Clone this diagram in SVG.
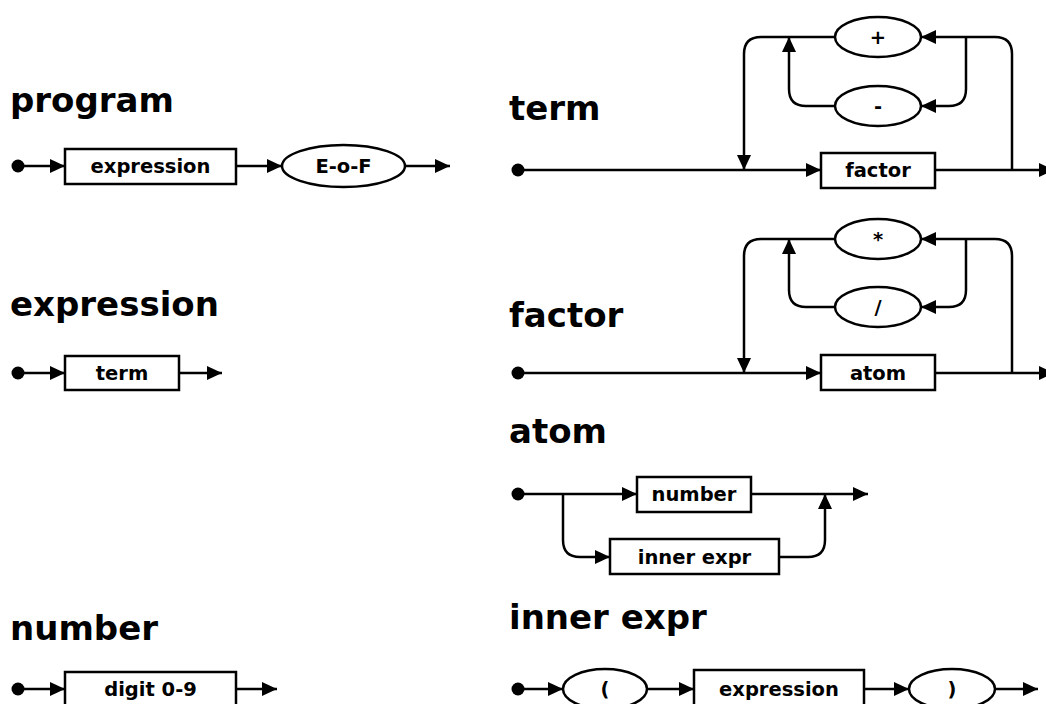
<svg xmlns="http://www.w3.org/2000/svg" width="1046" height="704" viewBox="0 0 1046 704">
<style>
.title{font-family:"DejaVu Sans",sans-serif;font-weight:bold;font-size:34px;fill:#000}
.lbl{font-family:"DejaVu Sans",sans-serif;font-weight:bold;font-size:19.5px;fill:#000;text-anchor:middle}
.shape{fill:#fff;stroke:#000;stroke-width:2.5}
.ln{fill:none;stroke:#000;stroke-width:2.5;marker-end:url(#arr)}
.dot{fill:#000}
</style>
<defs>
<marker id="arr" markerUnits="userSpaceOnUse" markerWidth="15" markerHeight="14" refX="15" refY="7" orient="auto"><path d="M0,0 L15,7 L0,14 z" fill="#000"/></marker>
</defs>
<rect width="1046" height="704" fill="#fff"/>
<g id="titles">
<text class="title" x="10" y="112">program</text>
<text class="title" x="10" y="316">expression</text>
<text class="title" x="10" y="640">number</text>
<text class="title" x="509" y="120">term</text>
<text class="title" x="509" y="327">factor</text>
<text class="title" x="509" y="443">atom</text>
<text class="title" x="509" y="629">inner expr</text>
</g>
<g id="connectors">
<path class="ln" d="M18,166 H65"/>
<path class="ln" d="M236,166 H282"/>
<path class="ln" d="M405,166 H450"/>
<path class="ln" d="M18,373 H65"/>
<path class="ln" d="M179,373 H222"/>
<path class="ln" d="M18,689 H65"/>
<path class="ln" d="M236,689 H277"/>
<path class="ln" d="M518,170 H821"/>
<path class="ln" d="M935,170 H1054"/>
<path class="ln" d="M1012,170 V54 Q1012,37 995,37 H921"/>
<path class="ln" d="M966,37 V89 Q966,106 949,106 H921"/>
<path class="ln" d="M835,37 H761 Q744,37 744,54 V170"/>
<path class="ln" d="M835,106 H806 Q789,106 789,89 V37"/>
<path class="ln" d="M518,373 H821"/>
<path class="ln" d="M935,373 H1054"/>
<path class="ln" d="M1012,373 V256 Q1012,239 995,239 H921"/>
<path class="ln" d="M966,239 V290 Q966,307 949,307 H921"/>
<path class="ln" d="M835,239 H761 Q744,239 744,256 V373"/>
<path class="ln" d="M835,307 H806 Q789,307 789,290 V239"/>
<path class="ln" d="M518,494 H637"/>
<path class="ln" d="M751,494 H868"/>
<path class="ln" d="M563,494 V540 Q563,557 580,557 H610"/>
<path class="ln" d="M779,557 H808 Q825,557 825,540 V494"/>
<path class="ln" d="M518,689 H563"/>
<path class="ln" d="M647,689 H694"/>
<path class="ln" d="M864,689 H909"/>
<path class="ln" d="M995,689 H1038"/>
</g>
<g id="dots">
<circle class="dot" cx="18" cy="166" r="6.5"/>
<circle class="dot" cx="18" cy="373" r="6.5"/>
<circle class="dot" cx="18" cy="689" r="6.5"/>
<circle class="dot" cx="518" cy="170" r="6.5"/>
<circle class="dot" cx="518" cy="373" r="6.5"/>
<circle class="dot" cx="518" cy="494" r="6.5"/>
<circle class="dot" cx="518" cy="689" r="6.5"/>
</g>
<g id="program-expression"><rect class="shape" x="65" y="149" width="171" height="35"/><text class="lbl" x="150.5" y="173">expression</text></g>
<g id="program-eof"><ellipse class="shape" cx="343.5" cy="166" rx="61.5" ry="21"/><text class="lbl" x="343.5" y="173">E-o-F</text></g>
<g id="expression-term"><rect class="shape" x="65" y="356" width="114" height="34"/><text class="lbl" x="122" y="380">term</text></g>
<g id="number-digit"><rect class="shape" x="65" y="672" width="171" height="35"/><text class="lbl" x="150.5" y="696">digit 0-9</text></g>
<g id="term-factor"><rect class="shape" x="821" y="153" width="114" height="35"/><text class="lbl" x="878" y="177">factor</text></g>
<g id="term-plus"><ellipse class="shape" cx="878" cy="37" rx="43" ry="20"/><text class="lbl" x="878" y="44">+</text></g>
<g id="term-minus"><ellipse class="shape" cx="878" cy="106" rx="43" ry="20"/><text class="lbl" x="878" y="113">-</text></g>
<g id="factor-atom"><rect class="shape" x="821" y="355" width="114" height="35"/><text class="lbl" x="878" y="380">atom</text></g>
<g id="factor-mul"><ellipse class="shape" cx="878" cy="239" rx="43" ry="20"/><text class="lbl" x="878" y="246">*</text></g>
<g id="factor-div"><ellipse class="shape" cx="878" cy="307" rx="43" ry="20"/><text class="lbl" x="878" y="314">/</text></g>
<g id="atom-number"><rect class="shape" x="637" y="477" width="114" height="35"/><text class="lbl" x="694" y="501">number</text></g>
<g id="atom-inner"><rect class="shape" x="610" y="539" width="169" height="35"/><text class="lbl" x="694.5" y="564">inner expr</text></g>
<g id="inner-lparen"><ellipse class="shape" cx="605" cy="689" rx="42" ry="20"/><text class="lbl" x="605" y="696">(</text></g>
<g id="inner-expression"><rect class="shape" x="694" y="670" width="170" height="36"/><text class="lbl" x="779" y="696">expression</text></g>
<g id="inner-rparen"><ellipse class="shape" cx="952" cy="689" rx="43" ry="20"/><text class="lbl" x="952" y="696">)</text></g>
</svg>
